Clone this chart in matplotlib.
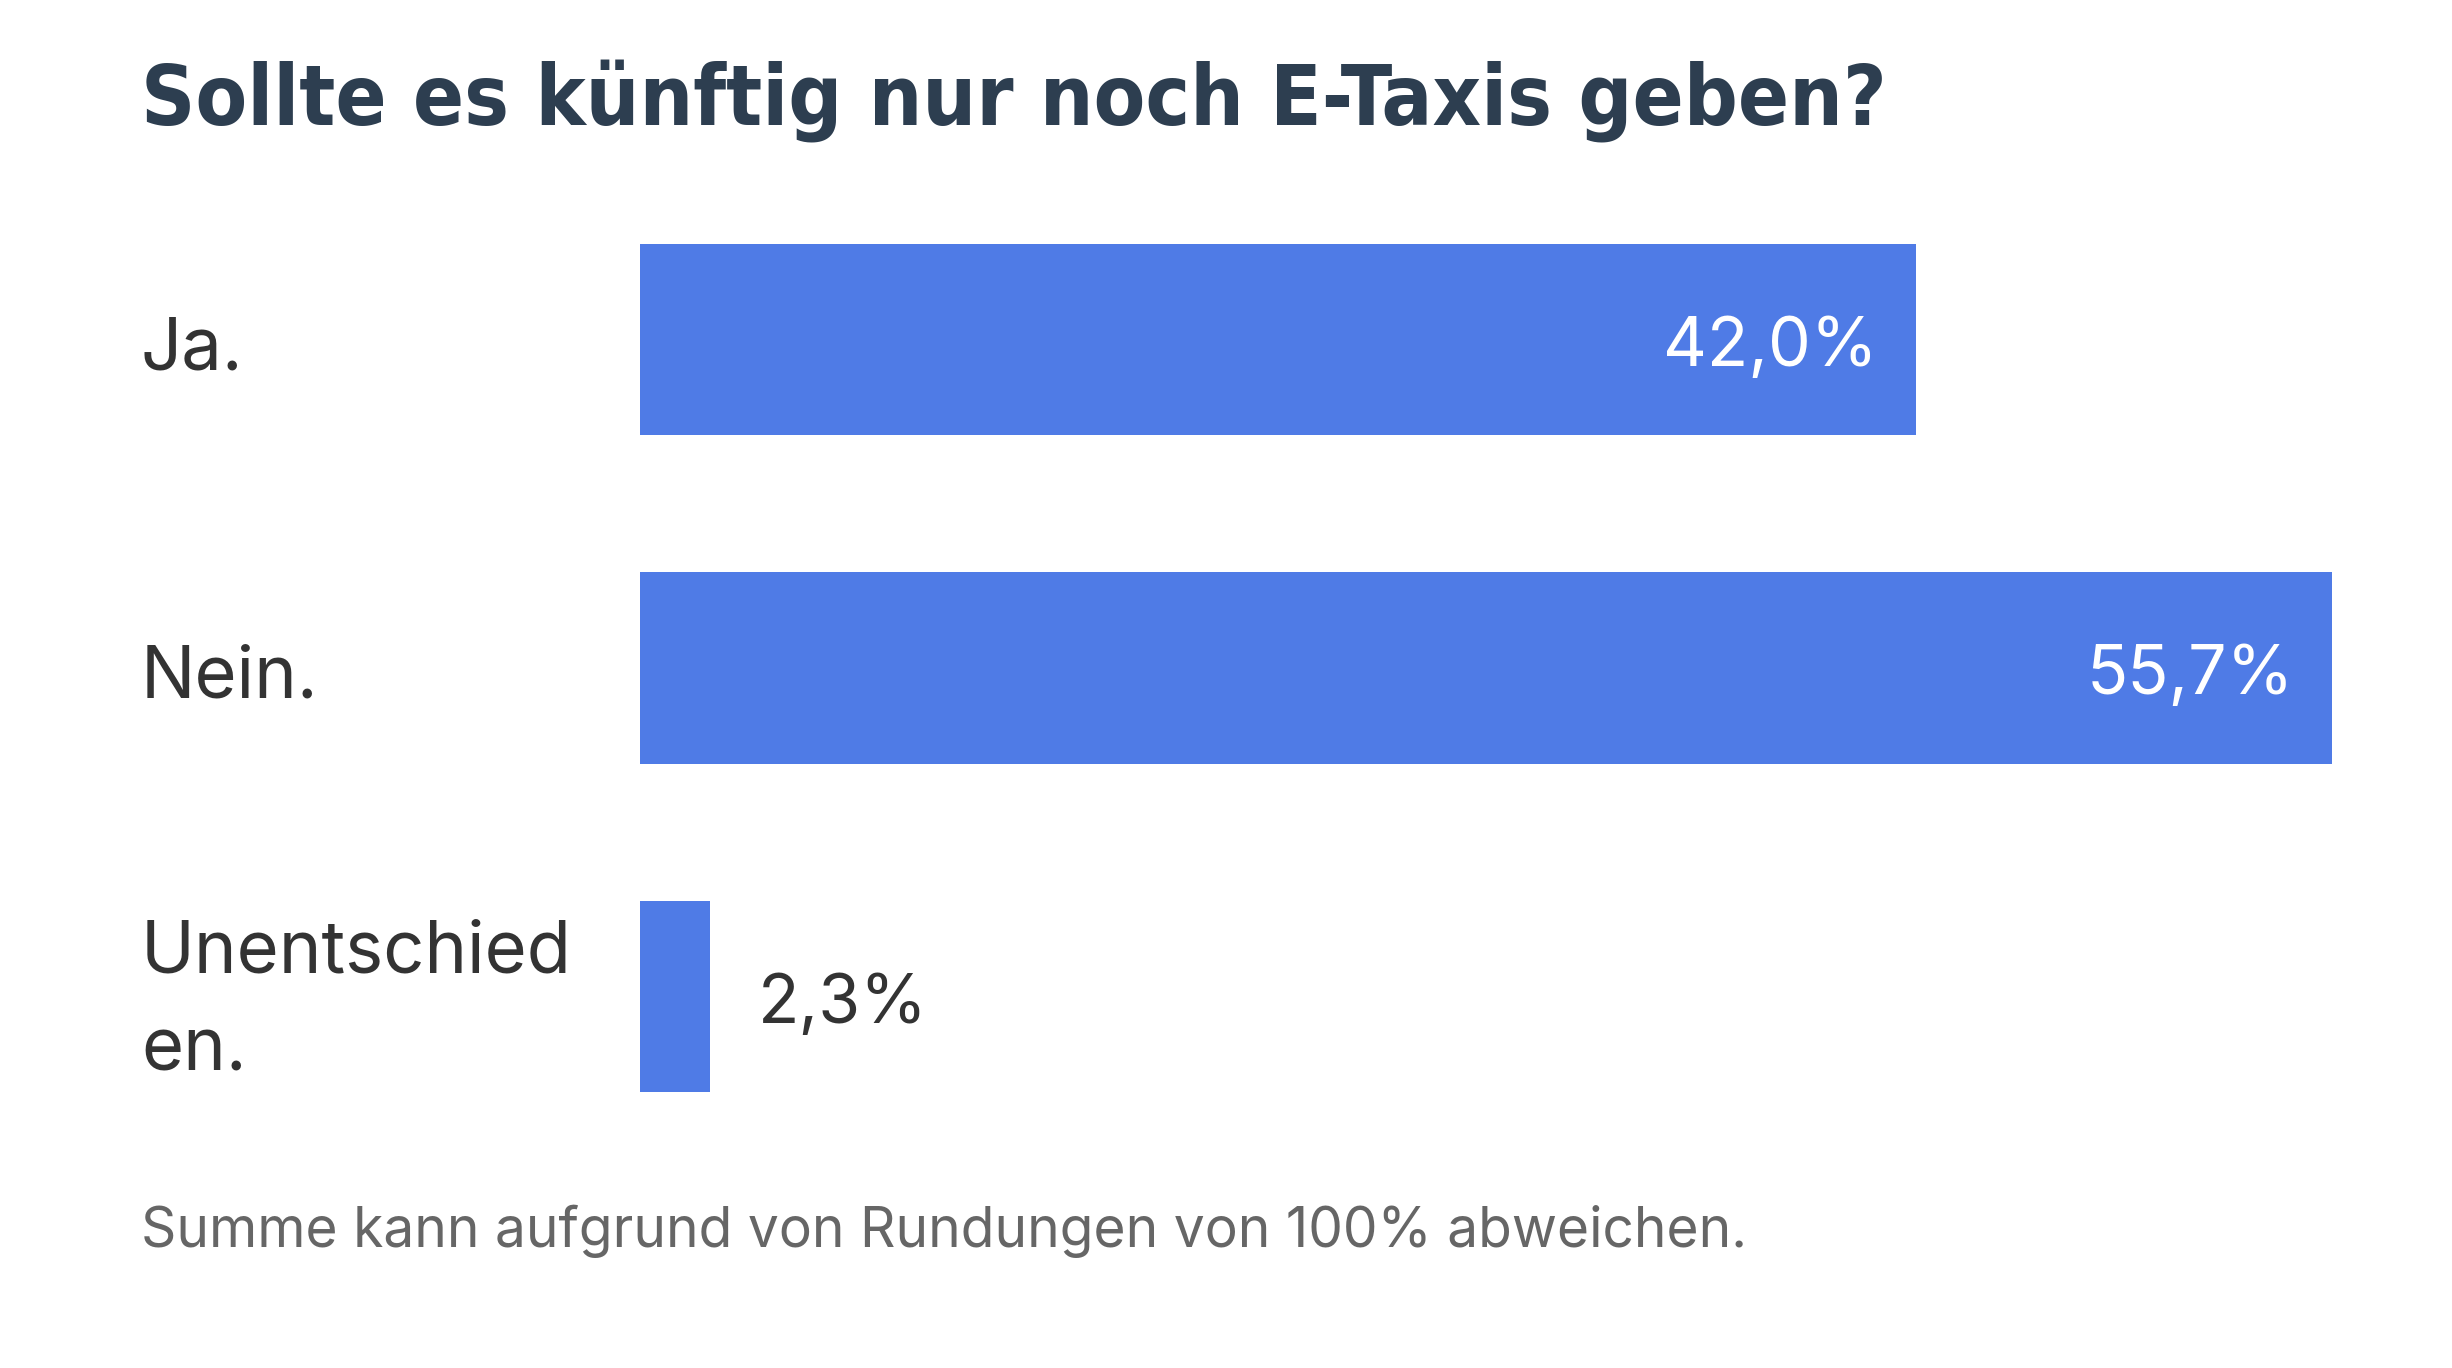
import matplotlib.pyplot as plt
from matplotlib.transforms import blended_transform_factory

categories = ['Ja.', 'Nein.', 'Unentschied\nen.']
values = [42.0, 55.7, 2.3]
value_labels = ['42,0%', '55,7%', '2,3%']

title = 'Sollte es künftig nur noch E-Taxis geben?'
footnote = 'Summe kann aufgrund von Rundungen von 100% abweichen.'

bar_color = '#4F7BE6'
W, H = 2452, 1368

fig = plt.figure(figsize=(W / 100, H / 100), dpi=100)
fig.patch.set_facecolor('white')

# axes placed in pixel terms so the bars land where the reference has them
ax = fig.add_axes([640 / W, 1 - 1092 / H, (2332 - 640) / W, (1092 - 244) / H])
ax.barh(range(len(values)), values, height=0.582, color=bar_color)
ax.set_xlim(0, max(values))
ax.set_ylim(len(values) - 1 + 0.291, -0.291)
ax.axis('off')

label_tr = blended_transform_factory(fig.transFigure, ax.transData)
for i, (cat, val, lab) in enumerate(zip(categories, values, value_labels)):
    nudge = -6 if '\n' in cat else -11
    ax.annotate(cat, (141 / W, i), xycoords=label_tr, xytext=(0, nudge),
                textcoords='offset pixels', ha='left', va='center',
                fontsize=52, color='#333333', family=['Inter', 'DejaVu Sans'],
                linespacing=1.55)
    if val > 10:
        ax.annotate(lab, (val, i), xytext=(-38, -8), textcoords='offset pixels',
                    ha='right', va='center', fontsize=49, color='white',
                    family=['Inter', 'DejaVu Sans'])
    else:
        ax.annotate(lab, (val, i), xytext=(48, -9), textcoords='offset pixels',
                    ha='left', va='center', fontsize=49, color='#333333',
                    family=['Inter', 'DejaVu Sans'])

fig.text(141 / W, 1 - 124 / H, title, ha='left', va='baseline', fontsize=60.5,
         fontweight='bold', fontstretch='condensed', color='#2D3E50',
         family=['DejaVu Sans'])
fig.text(141 / W, 1 - 1247 / H, footnote, ha='left', va='baseline', fontsize=39.7,
         color='#666666', family=['Inter', 'DejaVu Sans'])

fig.savefig('out.png', dpi=100, facecolor='white')
